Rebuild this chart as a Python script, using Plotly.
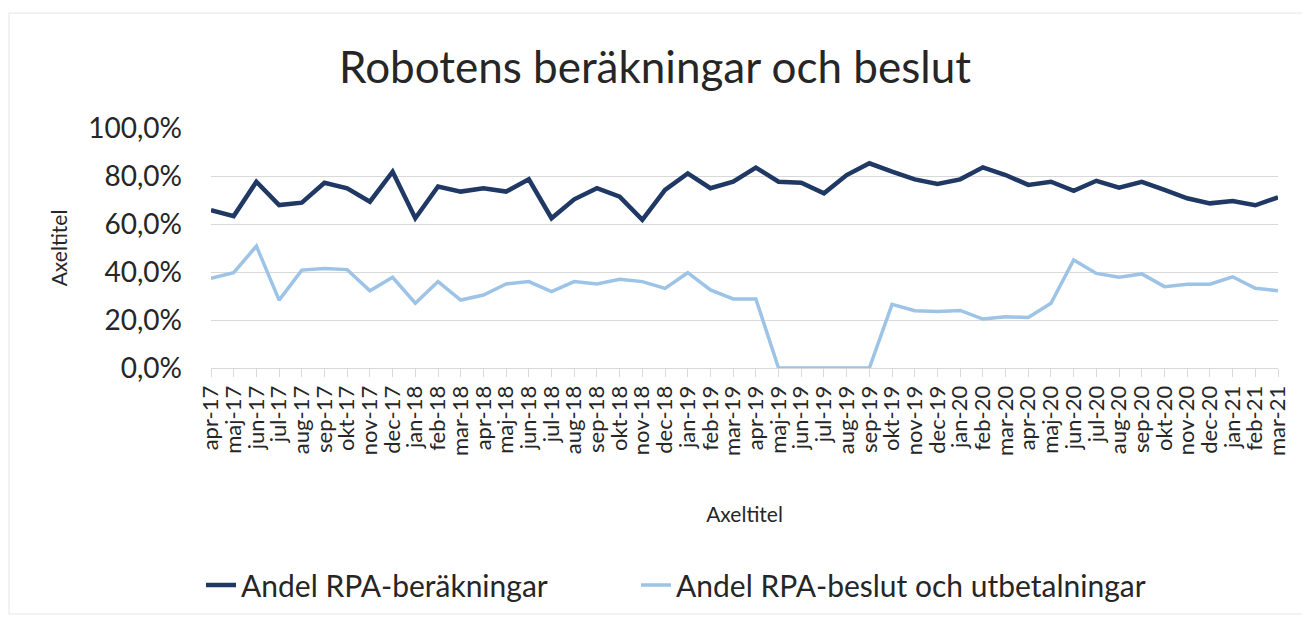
import plotly.graph_objects as go

months = ["apr","maj","jun","jul","aug","sep","okt","nov","dec","jan","feb","mar"]
categories = (
    [f"{m}-17" for m in months[:9]] + [f"{m}-18" for m in months[9:]] +
    [f"{m}-18" for m in months[:9]] + [f"{m}-19" for m in months[9:]] +
    [f"{m}-19" for m in months[:9]] + [f"{m}-20" for m in months[9:]] +
    [f"{m}-20" for m in months[:9]] + [f"{m}-21" for m in months[9:]]
)

berakningar = [
    65.8, 63.3, 77.6, 67.9, 68.9, 77.2, 74.9, 69.3, 81.8, 62.4, 75.6, 73.5,
    74.9, 73.5, 78.6, 62.4, 70.3, 74.9, 71.4, 61.7, 74.2, 81.1, 74.9, 77.6,
    83.5, 77.6, 77.2, 72.8, 80.4, 85.3, 81.8, 78.6, 76.7, 78.6, 83.6, 80.4,
    76.3, 77.6, 73.8, 78.0, 75.1, 77.6, 74.2, 70.7, 68.6, 69.6, 67.8, 71.1,
]
beslut = [
    37.4, 39.7, 50.8, 28.3, 40.8, 41.5, 41.0, 32.2, 37.8, 27.0, 36.0, 28.3,
    30.4, 35.0, 36.0, 31.8, 36.0, 35.0, 37.0, 36.0, 33.2, 39.7, 32.5, 28.8,
    28.8, 0.0, 0.0, 0.0, 0.0, 0.0, 26.5, 23.9, 23.5, 24.0, 20.4, 21.4,
    21.0, 27.0, 45.0, 39.4, 37.8, 39.2, 33.9, 34.9, 34.9, 38.0, 33.2, 32.2,
]

series_names = ["Andel RPA-beräkningar", "Andel RPA-beslut och utbetalningar"]
colors = ["#1F3864", "#9DC3E6"]

FONT = "Lato"
W, H = 1302, 608          # page body has an 8px margin
L, R, T, B = 203, 32, 120, 248

fig = go.Figure()
fig.add_trace(go.Scatter(x=categories, y=[v / 100 for v in berakningar], mode="lines",
                         name=series_names[0], line=dict(color=colors[0], width=4.5),
                         legend="legend"))
fig.add_trace(go.Scatter(x=categories, y=[v / 100 for v in beslut], mode="lines",
                         name=series_names[1], line=dict(color=colors[1], width=3.5),
                         legend="legend2"))

legend_common = dict(orientation="h", xref="container", xanchor="left",
                     yref="container", y=(H - 577) / H, yanchor="middle",
                     bgcolor="rgba(0,0,0,0)",
                     font=dict(family=FONT, size=30, color="#262626"))

fig.update_layout(
    width=W, height=H,
    margin=dict(l=L, r=R, t=T, b=B, autoexpand=False),
    paper_bgcolor="white", plot_bgcolor="white",
    separators=", ",
    font=dict(family=FONT, color="#262626"),
    title=dict(text="Robotens beräkningar och beslut", x=647 / W, xref="container", xanchor="center",
               y=1 - 60 / H, yref="container", yanchor="middle",
               font=dict(family=FONT, size=44, color="#262626")),
    showlegend=True,
    legend=dict(x=(200 - 7) / W, **legend_common),
    legend2=dict(x=(642 - 14) / W, **legend_common),
    xaxis=dict(type="category", range=[0, len(categories) - 1], showgrid=False,
               tickmode="array", tickvals=categories, ticktext=categories,
               showline=True, linecolor="#D9D9D9", linewidth=1,
               ticks="outside", ticklen=8, tickcolor="#D9D9D9",
               tickangle=-90, tickfont=dict(family=FONT, size=22, color="#262626"),
               title=dict(text="Axeltitel", font=dict(family=FONT, size=21, color="#262626"),
                          standoff=52)),
    yaxis=dict(range=[0, 1], tickvals=[0, 0.2, 0.4, 0.6, 0.8, 1.0], tickformat=".1%",
               showgrid=True, gridcolor="#D9D9D9", gridwidth=1, zeroline=False,
               showline=False, ticks="", ticklabelstandoff=28,
               tickfont=dict(family=FONT, size=28, color="#262626"),
               title=dict(text="Axeltitel", font=dict(family=FONT, size=21, color="#262626"),
                          standoff=14)),
)

# faint chart border
fig.add_shape(type="rect", xref="paper", yref="paper",
              x0=(1 - L) / 1067, x1=(1297 - L) / 1067,
              y0=(360 - 606) / 240, y1=(360 - 5) / 240,
              line=dict(color="#E6E6E6", width=1), layer="below")

fig.write_html("out.html")
